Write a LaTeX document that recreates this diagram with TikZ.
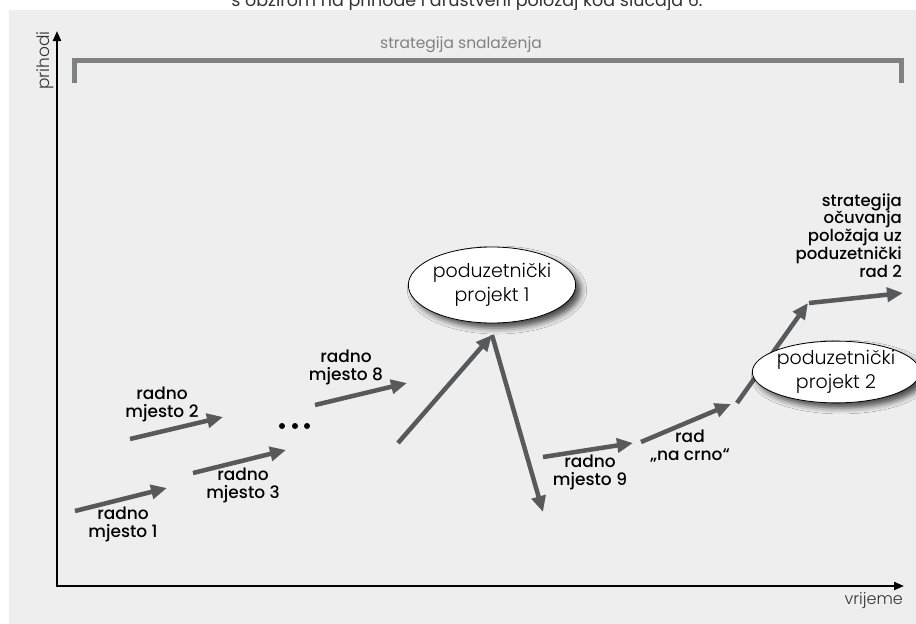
\documentclass[tikz,border=0pt]{standalone}
\usepackage{fontspec}
\setmainfont{Poppins}
\newfontfamily\lightf{Poppins Light}
\newfontfamily\medf{Poppins Medium}
\usetikzlibrary{arrows.meta,shapes.geometric,shadows.blur}
\definecolor{panel}{HTML}{EEEEEE}
\definecolor{arr}{HTML}{58595B}
\definecolor{brk}{HTML}{808184}
\definecolor{dark}{HTML}{333333}
\begin{document}
\begin{tikzpicture}[x=1pt,y=-1pt,
  jobarrow/.style={line width=4.5pt, draw=arr, line cap=butt, -{Triangle[length=16pt,width=14pt]}},
  lab/.style={font=\medf\fontsize{17}{18}\selectfont, align=center, text=black, inner sep=0pt},
  proj/.style={ellipse, draw=black, line width=0.8pt, fill=white, align=center,
    font=\lightf\fontsize{19}{24.5}\selectfont, inner sep=0pt,
    blur shadow={shadow xshift=5pt, shadow yshift=-5pt, shadow blur radius=6pt, shadow opacity=70}},
  axis/.style={line width=2pt, draw=black, line join=miter},
]
\clip (0,0) rectangle (916,624);
\useasboundingbox (0,0) rectangle (916,624);
\fill[white] (0,0) rectangle (916,624);
\node[anchor=base, inner sep=0pt, text=dark, font=\fontsize{17.5}{20}\selectfont] (cap) at (467,6) {s obzirom na prihode i društveni položaj kod slučaja 6.};
\fill[panel] (9,9.5) rectangle (916,624);

% axes
\coordinate (O) at (57,586);
\coordinate (Ytop) at (57,31);
\coordinate (Xend) at (904,586);
\draw[axis, {Triangle[length=10pt,width=8pt]}-{Triangle[length=10pt,width=8pt]}] (Ytop) -- (O) -- (Xend);
\node[rotate=90, anchor=east, inner sep=0pt, text=dark, font=\lightf\fontsize{17}{18}\selectfont] (yl) at (45,31) {prihodi};
\node[anchor=east, inner sep=0pt, text=dark, font=\lightf\fontsize{16}{18}\selectfont] (xl) at (903,601) {vrijeme};

% bracket
\coordinate (b1) at (74.5,83);
\coordinate (b2) at (74.5,60.5);
\coordinate (b3) at (901.5,60.5);
\coordinate (b4) at (901.5,83);
\draw[brk, line width=5pt, line join=miter] (b1) -- (b2) -- (b3) -- (b4);
\node[text=brk, inner sep=0pt, font=\fontsize{15.5}{20}\selectfont] (st) at (461,45) {strategija snalaženja};

% job arrows
\coordinate (a1s) at (75,511); \coordinate (a1e) at (167,488);
\coordinate (a2s) at (130,439); \coordinate (a2e) at (223,417);
\coordinate (a3s) at (193,473); \coordinate (a3e) at (286,450);
\coordinate (a8s) at (315,405); \coordinate (a8e) at (407,383);
\coordinate (ups) at (398,443); \coordinate (peak) at (492,335);
\coordinate (down) at (543,512);
\coordinate (a9s) at (543,457); \coordinate (a9e) at (633,443);
\coordinate (crs) at (641,442); \coordinate (cre) at (731,404);
\coordinate (u2s) at (737,403); \coordinate (u2e) at (808,303);
\coordinate (fs) at (809,303); \coordinate (fe) at (903,293);

\draw[jobarrow] (a1s) -- (a1e);
\draw[jobarrow] (a2s) -- (a2e);
\draw[jobarrow] (a3s) -- (a3e);
\draw[jobarrow] (a8s) -- (a8e);
\draw[jobarrow] (ups) -- (peak);
\draw[jobarrow] (peak) -- (down);
\draw[jobarrow] (a9s) -- (a9e);
\draw[jobarrow] (crs) -- (cre);
\draw[jobarrow] (u2s) -- (u2e);
\draw[jobarrow] (fs) -- (fe);

% dots
\fill[black] (282,426) circle (3pt);
\fill[black] (295,426) circle (3pt);
\fill[black] (307,426) circle (3pt);

% labels
\node[lab] (l1) at (123,524) {radno\\mjesto 1};
\node[lab] (l2) at (162,404) {radno\\mjesto 2};
\node[lab] (l3) at (243,485) {radno\\mjesto 3};
\node[lab] (l8) at (346,367) {radno\\mjesto 8};
\node[lab] (l9) at (590,472) {radno\\mjesto 9};
\node[lab] (lc) at (690,446) {rad\\„na crno“};
\node[lab, align=right, anchor=east, font=\medf\fontsize{16.5}{17.8}\selectfont] (ls) at (902,235.5) {strategija\\očuvanja\\položaja uz\\poduzetnički\\rad 2};

% projects
\node[proj, minimum width=140pt, minimum height=76pt] (p1) at (492,285) {poduzetnički\\projekt 1};
\node[proj, minimum width=126pt, minimum height=60pt] (p2) at (836,372) {poduzetnički\\projekt 2};
\end{tikzpicture}
\end{document}
